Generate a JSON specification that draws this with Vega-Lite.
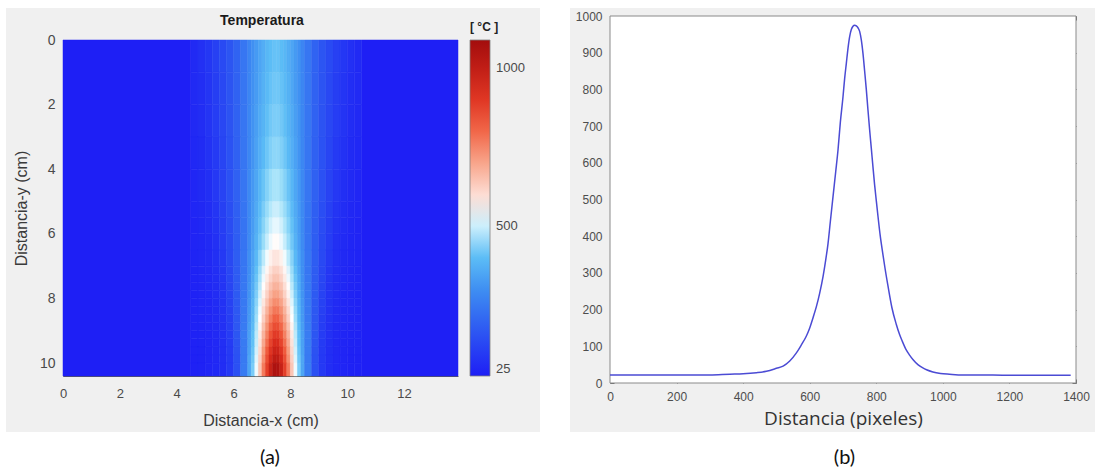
{
"$schema": "https://vega.github.io/schema/vega-lite/v6.json",
"background": "white",
"padding": {"left": 6, "top": 8, "right": 0, "bottom": 0},
"spacing": 30,
"config": {"view": {"stroke": null}, "font": "Liberation Sans", "axis": {"grid": false, "labelFont": "Liberation Sans", "titleFont": "Liberation Sans", "labelColor": "#4a4a4a", "titleColor": "#3a3a3a", "titleFontWeight": "normal"}},
"datasets": {
"heat": [
{"x0":0,"x1":4.5,"y0":0,"y1":10.4,"t":27},{"x0":10.5,"x1":13.9,"y0":0,"y1":10.4,"t":27},
{"x0":4.5,"x1":4.75,"y0":0,"y1":1,"t":56},{"x0":4.75,"x1":5,"y0":0,"y1":1,"t":69},{"x0":5,"x1":5.25,"y0":0,"y1":1,"t":87},{"x0":5.25,"x1":5.5,"y0":0,"y1":1,"t":109},{"x0":5.5,"x1":5.75,"y0":0,"y1":1,"t":134},{"x0":5.75,"x1":6,"y0":0,"y1":1,"t":163},{"x0":6,"x1":6.25,"y0":0,"y1":1,"t":197},{"x0":6.25,"x1":6.5,"y0":0,"y1":1,"t":242},{"x0":6.5,"x1":6.625,"y0":0,"y1":1,"t":277},{"x0":6.625,"x1":6.75,"y0":0,"y1":1,"t":302},{"x0":6.75,"x1":6.875,"y0":0,"y1":1,"t":325},{"x0":6.875,"x1":7,"y0":0,"y1":1,"t":347},{"x0":7,"x1":7.125,"y0":0,"y1":1,"t":368},{"x0":7.125,"x1":7.25,"y0":0,"y1":1,"t":386},{"x0":7.25,"x1":7.375,"y0":0,"y1":1,"t":400},{"x0":7.375,"x1":7.5,"y0":0,"y1":1,"t":409},{"x0":7.5,"x1":7.625,"y0":0,"y1":1,"t":409},{"x0":7.625,"x1":7.75,"y0":0,"y1":1,"t":400},{"x0":7.75,"x1":7.875,"y0":0,"y1":1,"t":386},{"x0":7.875,"x1":8,"y0":0,"y1":1,"t":368},{"x0":8,"x1":8.125,"y0":0,"y1":1,"t":347},{"x0":8.125,"x1":8.25,"y0":0,"y1":1,"t":325},{"x0":8.25,"x1":8.375,"y0":0,"y1":1,"t":302},{"x0":8.375,"x1":8.5,"y0":0,"y1":1,"t":277},{"x0":8.5,"x1":8.75,"y0":0,"y1":1,"t":242},{"x0":8.75,"x1":9,"y0":0,"y1":1,"t":197},{"x0":9,"x1":9.25,"y0":0,"y1":1,"t":163},{"x0":9.25,"x1":9.5,"y0":0,"y1":1,"t":134},{"x0":9.5,"x1":9.75,"y0":0,"y1":1,"t":109},{"x0":9.75,"x1":10,"y0":0,"y1":1,"t":87},{"x0":10,"x1":10.25,"y0":0,"y1":1,"t":69},{"x0":10.25,"x1":10.5,"y0":0,"y1":1,"t":56},
{"x0":4.5,"x1":4.75,"y0":1,"y1":2,"t":54},{"x0":4.75,"x1":5,"y0":1,"y1":2,"t":66},{"x0":5,"x1":5.25,"y0":1,"y1":2,"t":83},{"x0":5.25,"x1":5.5,"y0":1,"y1":2,"t":106},{"x0":5.5,"x1":5.75,"y0":1,"y1":2,"t":131},{"x0":5.75,"x1":6,"y0":1,"y1":2,"t":160},{"x0":6,"x1":6.25,"y0":1,"y1":2,"t":195},{"x0":6.25,"x1":6.5,"y0":1,"y1":2,"t":241},{"x0":6.5,"x1":6.625,"y0":1,"y1":2,"t":278},{"x0":6.625,"x1":6.75,"y0":1,"y1":2,"t":305},{"x0":6.75,"x1":6.875,"y0":1,"y1":2,"t":329},{"x0":6.875,"x1":7,"y0":1,"y1":2,"t":353},{"x0":7,"x1":7.125,"y0":1,"y1":2,"t":375},{"x0":7.125,"x1":7.25,"y0":1,"y1":2,"t":394},{"x0":7.25,"x1":7.375,"y0":1,"y1":2,"t":409},{"x0":7.375,"x1":7.5,"y0":1,"y1":2,"t":419},{"x0":7.5,"x1":7.625,"y0":1,"y1":2,"t":419},{"x0":7.625,"x1":7.75,"y0":1,"y1":2,"t":409},{"x0":7.75,"x1":7.875,"y0":1,"y1":2,"t":394},{"x0":7.875,"x1":8,"y0":1,"y1":2,"t":375},{"x0":8,"x1":8.125,"y0":1,"y1":2,"t":353},{"x0":8.125,"x1":8.25,"y0":1,"y1":2,"t":329},{"x0":8.25,"x1":8.375,"y0":1,"y1":2,"t":305},{"x0":8.375,"x1":8.5,"y0":1,"y1":2,"t":278},{"x0":8.5,"x1":8.75,"y0":1,"y1":2,"t":241},{"x0":8.75,"x1":9,"y0":1,"y1":2,"t":195},{"x0":9,"x1":9.25,"y0":1,"y1":2,"t":160},{"x0":9.25,"x1":9.5,"y0":1,"y1":2,"t":131},{"x0":9.5,"x1":9.75,"y0":1,"y1":2,"t":106},{"x0":9.75,"x1":10,"y0":1,"y1":2,"t":83},{"x0":10,"x1":10.25,"y0":1,"y1":2,"t":66},{"x0":10.25,"x1":10.5,"y0":1,"y1":2,"t":54},
{"x0":4.5,"x1":4.75,"y0":2,"y1":3,"t":52},{"x0":4.75,"x1":5,"y0":2,"y1":3,"t":62},{"x0":5,"x1":5.25,"y0":2,"y1":3,"t":80},{"x0":5.25,"x1":5.5,"y0":2,"y1":3,"t":102},{"x0":5.5,"x1":5.75,"y0":2,"y1":3,"t":128},{"x0":5.75,"x1":6,"y0":2,"y1":3,"t":158},{"x0":6,"x1":6.25,"y0":2,"y1":3,"t":194},{"x0":6.25,"x1":6.5,"y0":2,"y1":3,"t":241},{"x0":6.5,"x1":6.625,"y0":2,"y1":3,"t":281},{"x0":6.625,"x1":6.75,"y0":2,"y1":3,"t":308},{"x0":6.75,"x1":6.875,"y0":2,"y1":3,"t":334},{"x0":6.875,"x1":7,"y0":2,"y1":3,"t":360},{"x0":7,"x1":7.125,"y0":2,"y1":3,"t":383},{"x0":7.125,"x1":7.25,"y0":2,"y1":3,"t":404},{"x0":7.25,"x1":7.375,"y0":2,"y1":3,"t":421},{"x0":7.375,"x1":7.5,"y0":2,"y1":3,"t":430},{"x0":7.5,"x1":7.625,"y0":2,"y1":3,"t":430},{"x0":7.625,"x1":7.75,"y0":2,"y1":3,"t":421},{"x0":7.75,"x1":7.875,"y0":2,"y1":3,"t":404},{"x0":7.875,"x1":8,"y0":2,"y1":3,"t":383},{"x0":8,"x1":8.125,"y0":2,"y1":3,"t":360},{"x0":8.125,"x1":8.25,"y0":2,"y1":3,"t":334},{"x0":8.25,"x1":8.375,"y0":2,"y1":3,"t":308},{"x0":8.375,"x1":8.5,"y0":2,"y1":3,"t":281},{"x0":8.5,"x1":8.75,"y0":2,"y1":3,"t":241},{"x0":8.75,"x1":9,"y0":2,"y1":3,"t":194},{"x0":9,"x1":9.25,"y0":2,"y1":3,"t":158},{"x0":9.25,"x1":9.5,"y0":2,"y1":3,"t":128},{"x0":9.5,"x1":9.75,"y0":2,"y1":3,"t":102},{"x0":9.75,"x1":10,"y0":2,"y1":3,"t":80},{"x0":10,"x1":10.25,"y0":2,"y1":3,"t":62},{"x0":10.25,"x1":10.5,"y0":2,"y1":3,"t":52},
{"x0":4.5,"x1":4.75,"y0":3,"y1":4,"t":49},{"x0":4.75,"x1":5,"y0":3,"y1":4,"t":58},{"x0":5,"x1":5.25,"y0":3,"y1":4,"t":74},{"x0":5.25,"x1":5.5,"y0":3,"y1":4,"t":96},{"x0":5.5,"x1":5.75,"y0":3,"y1":4,"t":123},{"x0":5.75,"x1":6,"y0":3,"y1":4,"t":154},{"x0":6,"x1":6.25,"y0":3,"y1":4,"t":192},{"x0":6.25,"x1":6.5,"y0":3,"y1":4,"t":240},{"x0":6.5,"x1":6.625,"y0":3,"y1":4,"t":282},{"x0":6.625,"x1":6.75,"y0":3,"y1":4,"t":311},{"x0":6.75,"x1":6.875,"y0":3,"y1":4,"t":341},{"x0":6.875,"x1":7,"y0":3,"y1":4,"t":368},{"x0":7,"x1":7.125,"y0":3,"y1":4,"t":394},{"x0":7.125,"x1":7.25,"y0":3,"y1":4,"t":416},{"x0":7.25,"x1":7.375,"y0":3,"y1":4,"t":435},{"x0":7.375,"x1":7.5,"y0":3,"y1":4,"t":446},{"x0":7.5,"x1":7.625,"y0":3,"y1":4,"t":446},{"x0":7.625,"x1":7.75,"y0":3,"y1":4,"t":435},{"x0":7.75,"x1":7.875,"y0":3,"y1":4,"t":416},{"x0":7.875,"x1":8,"y0":3,"y1":4,"t":394},{"x0":8,"x1":8.125,"y0":3,"y1":4,"t":368},{"x0":8.125,"x1":8.25,"y0":3,"y1":4,"t":341},{"x0":8.25,"x1":8.375,"y0":3,"y1":4,"t":311},{"x0":8.375,"x1":8.5,"y0":3,"y1":4,"t":282},{"x0":8.5,"x1":8.75,"y0":3,"y1":4,"t":240},{"x0":8.75,"x1":9,"y0":3,"y1":4,"t":192},{"x0":9,"x1":9.25,"y0":3,"y1":4,"t":154},{"x0":9.25,"x1":9.5,"y0":3,"y1":4,"t":123},{"x0":9.5,"x1":9.75,"y0":3,"y1":4,"t":96},{"x0":9.75,"x1":10,"y0":3,"y1":4,"t":74},{"x0":10,"x1":10.25,"y0":3,"y1":4,"t":58},{"x0":10.25,"x1":10.5,"y0":3,"y1":4,"t":49},
{"x0":4.5,"x1":4.75,"y0":4,"y1":5,"t":46},{"x0":4.75,"x1":5,"y0":4,"y1":5,"t":55},{"x0":5,"x1":5.25,"y0":4,"y1":5,"t":68},{"x0":5.25,"x1":5.5,"y0":4,"y1":5,"t":90},{"x0":5.5,"x1":5.75,"y0":4,"y1":5,"t":118},{"x0":5.75,"x1":6,"y0":4,"y1":5,"t":152},{"x0":6,"x1":6.25,"y0":4,"y1":5,"t":192},{"x0":6.25,"x1":6.5,"y0":4,"y1":5,"t":242},{"x0":6.5,"x1":6.625,"y0":4,"y1":5,"t":287},{"x0":6.625,"x1":6.75,"y0":4,"y1":5,"t":319},{"x0":6.75,"x1":6.875,"y0":4,"y1":5,"t":353},{"x0":6.875,"x1":7,"y0":4,"y1":5,"t":384},{"x0":7,"x1":7.125,"y0":4,"y1":5,"t":413},{"x0":7.125,"x1":7.25,"y0":4,"y1":5,"t":438},{"x0":7.25,"x1":7.375,"y0":4,"y1":5,"t":460},{"x0":7.375,"x1":7.5,"y0":4,"y1":5,"t":473},{"x0":7.5,"x1":7.625,"y0":4,"y1":5,"t":473},{"x0":7.625,"x1":7.75,"y0":4,"y1":5,"t":460},{"x0":7.75,"x1":7.875,"y0":4,"y1":5,"t":438},{"x0":7.875,"x1":8,"y0":4,"y1":5,"t":413},{"x0":8,"x1":8.125,"y0":4,"y1":5,"t":384},{"x0":8.125,"x1":8.25,"y0":4,"y1":5,"t":353},{"x0":8.25,"x1":8.375,"y0":4,"y1":5,"t":319},{"x0":8.375,"x1":8.5,"y0":4,"y1":5,"t":287},{"x0":8.5,"x1":8.75,"y0":4,"y1":5,"t":242},{"x0":8.75,"x1":9,"y0":4,"y1":5,"t":192},{"x0":9,"x1":9.25,"y0":4,"y1":5,"t":152},{"x0":9.25,"x1":9.5,"y0":4,"y1":5,"t":118},{"x0":9.5,"x1":9.75,"y0":4,"y1":5,"t":90},{"x0":9.75,"x1":10,"y0":4,"y1":5,"t":68},{"x0":10,"x1":10.25,"y0":4,"y1":5,"t":55},{"x0":10.25,"x1":10.5,"y0":4,"y1":5,"t":46},
{"x0":4.5,"x1":4.75,"y0":5,"y1":5.5,"t":44},{"x0":4.75,"x1":5,"y0":5,"y1":5.5,"t":51},{"x0":5,"x1":5.25,"y0":5,"y1":5.5,"t":63},{"x0":5.25,"x1":5.5,"y0":5,"y1":5.5,"t":82},{"x0":5.5,"x1":5.75,"y0":5,"y1":5.5,"t":111},{"x0":5.75,"x1":6,"y0":5,"y1":5.5,"t":146},{"x0":6,"x1":6.25,"y0":5,"y1":5.5,"t":187},{"x0":6.25,"x1":6.5,"y0":5,"y1":5.5,"t":238},{"x0":6.5,"x1":6.625,"y0":5,"y1":5.5,"t":289},{"x0":6.625,"x1":6.75,"y0":5,"y1":5.5,"t":324},{"x0":6.75,"x1":6.875,"y0":5,"y1":5.5,"t":361},{"x0":6.875,"x1":7,"y0":5,"y1":5.5,"t":396},{"x0":7,"x1":7.125,"y0":5,"y1":5.5,"t":429},{"x0":7.125,"x1":7.25,"y0":5,"y1":5.5,"t":458},{"x0":7.25,"x1":7.375,"y0":5,"y1":5.5,"t":482},{"x0":7.375,"x1":7.5,"y0":5,"y1":5.5,"t":498},{"x0":7.5,"x1":7.625,"y0":5,"y1":5.5,"t":498},{"x0":7.625,"x1":7.75,"y0":5,"y1":5.5,"t":482},{"x0":7.75,"x1":7.875,"y0":5,"y1":5.5,"t":458},{"x0":7.875,"x1":8,"y0":5,"y1":5.5,"t":429},{"x0":8,"x1":8.125,"y0":5,"y1":5.5,"t":396},{"x0":8.125,"x1":8.25,"y0":5,"y1":5.5,"t":361},{"x0":8.25,"x1":8.375,"y0":5,"y1":5.5,"t":324},{"x0":8.375,"x1":8.5,"y0":5,"y1":5.5,"t":289},{"x0":8.5,"x1":8.75,"y0":5,"y1":5.5,"t":238},{"x0":8.75,"x1":9,"y0":5,"y1":5.5,"t":187},{"x0":9,"x1":9.25,"y0":5,"y1":5.5,"t":146},{"x0":9.25,"x1":9.5,"y0":5,"y1":5.5,"t":111},{"x0":9.5,"x1":9.75,"y0":5,"y1":5.5,"t":82},{"x0":9.75,"x1":10,"y0":5,"y1":5.5,"t":63},{"x0":10,"x1":10.25,"y0":5,"y1":5.5,"t":51},{"x0":10.25,"x1":10.5,"y0":5,"y1":5.5,"t":44},
{"x0":4.5,"x1":4.75,"y0":5.5,"y1":6,"t":41},{"x0":4.75,"x1":5,"y0":5.5,"y1":6,"t":48},{"x0":5,"x1":5.25,"y0":5.5,"y1":6,"t":59},{"x0":5.25,"x1":5.5,"y0":5.5,"y1":6,"t":77},{"x0":5.5,"x1":5.75,"y0":5.5,"y1":6,"t":105},{"x0":5.75,"x1":6,"y0":5.5,"y1":6,"t":141},{"x0":6,"x1":6.25,"y0":5.5,"y1":6,"t":184},{"x0":6.25,"x1":6.5,"y0":5.5,"y1":6,"t":236},{"x0":6.5,"x1":6.625,"y0":5.5,"y1":6,"t":289},{"x0":6.625,"x1":6.75,"y0":5.5,"y1":6,"t":328},{"x0":6.75,"x1":6.875,"y0":5.5,"y1":6,"t":368},{"x0":6.875,"x1":7,"y0":5.5,"y1":6,"t":407},{"x0":7,"x1":7.125,"y0":5.5,"y1":6,"t":442},{"x0":7.125,"x1":7.25,"y0":5.5,"y1":6,"t":475},{"x0":7.25,"x1":7.375,"y0":5.5,"y1":6,"t":503},{"x0":7.375,"x1":7.5,"y0":5.5,"y1":6,"t":520},{"x0":7.5,"x1":7.625,"y0":5.5,"y1":6,"t":520},{"x0":7.625,"x1":7.75,"y0":5.5,"y1":6,"t":503},{"x0":7.75,"x1":7.875,"y0":5.5,"y1":6,"t":475},{"x0":7.875,"x1":8,"y0":5.5,"y1":6,"t":442},{"x0":8,"x1":8.125,"y0":5.5,"y1":6,"t":407},{"x0":8.125,"x1":8.25,"y0":5.5,"y1":6,"t":368},{"x0":8.25,"x1":8.375,"y0":5.5,"y1":6,"t":328},{"x0":8.375,"x1":8.5,"y0":5.5,"y1":6,"t":289},{"x0":8.5,"x1":8.75,"y0":5.5,"y1":6,"t":236},{"x0":8.75,"x1":9,"y0":5.5,"y1":6,"t":184},{"x0":9,"x1":9.25,"y0":5.5,"y1":6,"t":141},{"x0":9.25,"x1":9.5,"y0":5.5,"y1":6,"t":105},{"x0":9.5,"x1":9.75,"y0":5.5,"y1":6,"t":77},{"x0":9.75,"x1":10,"y0":5.5,"y1":6,"t":59},{"x0":10,"x1":10.25,"y0":5.5,"y1":6,"t":48},{"x0":10.25,"x1":10.5,"y0":5.5,"y1":6,"t":41},
{"x0":4.5,"x1":4.75,"y0":6,"y1":6.5,"t":40},{"x0":4.75,"x1":5,"y0":6,"y1":6.5,"t":46},{"x0":5,"x1":5.25,"y0":6,"y1":6.5,"t":56},{"x0":5.25,"x1":5.5,"y0":6,"y1":6.5,"t":71},{"x0":5.5,"x1":5.75,"y0":6,"y1":6.5,"t":99},{"x0":5.75,"x1":6,"y0":6,"y1":6.5,"t":136},{"x0":6,"x1":6.25,"y0":6,"y1":6.5,"t":182},{"x0":6.25,"x1":6.5,"y0":6,"y1":6.5,"t":236},{"x0":6.5,"x1":6.625,"y0":6,"y1":6.5,"t":290},{"x0":6.625,"x1":6.75,"y0":6,"y1":6.5,"t":333},{"x0":6.75,"x1":6.875,"y0":6,"y1":6.5,"t":375},{"x0":6.875,"x1":7,"y0":6,"y1":6.5,"t":419},{"x0":7,"x1":7.125,"y0":6,"y1":6.5,"t":459},{"x0":7.125,"x1":7.25,"y0":6,"y1":6.5,"t":495},{"x0":7.25,"x1":7.375,"y0":6,"y1":6.5,"t":526},{"x0":7.375,"x1":7.5,"y0":6,"y1":6.5,"t":545},{"x0":7.5,"x1":7.625,"y0":6,"y1":6.5,"t":545},{"x0":7.625,"x1":7.75,"y0":6,"y1":6.5,"t":526},{"x0":7.75,"x1":7.875,"y0":6,"y1":6.5,"t":495},{"x0":7.875,"x1":8,"y0":6,"y1":6.5,"t":459},{"x0":8,"x1":8.125,"y0":6,"y1":6.5,"t":419},{"x0":8.125,"x1":8.25,"y0":6,"y1":6.5,"t":375},{"x0":8.25,"x1":8.375,"y0":6,"y1":6.5,"t":333},{"x0":8.375,"x1":8.5,"y0":6,"y1":6.5,"t":290},{"x0":8.5,"x1":8.75,"y0":6,"y1":6.5,"t":236},{"x0":8.75,"x1":9,"y0":6,"y1":6.5,"t":182},{"x0":9,"x1":9.25,"y0":6,"y1":6.5,"t":136},{"x0":9.25,"x1":9.5,"y0":6,"y1":6.5,"t":99},{"x0":9.5,"x1":9.75,"y0":6,"y1":6.5,"t":71},{"x0":9.75,"x1":10,"y0":6,"y1":6.5,"t":56},{"x0":10,"x1":10.25,"y0":6,"y1":6.5,"t":46},{"x0":10.25,"x1":10.5,"y0":6,"y1":6.5,"t":40},
{"x0":4.5,"x1":4.75,"y0":6.5,"y1":7,"t":39},{"x0":4.75,"x1":5,"y0":6.5,"y1":7,"t":44},{"x0":5,"x1":5.25,"y0":6.5,"y1":7,"t":53},{"x0":5.25,"x1":5.5,"y0":6.5,"y1":7,"t":67},{"x0":5.5,"x1":5.75,"y0":6.5,"y1":7,"t":93},{"x0":5.75,"x1":6,"y0":6.5,"y1":7,"t":132},{"x0":6,"x1":6.25,"y0":6.5,"y1":7,"t":182},{"x0":6.25,"x1":6.5,"y0":6.5,"y1":7,"t":240},{"x0":6.5,"x1":6.625,"y0":6.5,"y1":7,"t":299},{"x0":6.625,"x1":6.75,"y0":6.5,"y1":7,"t":344},{"x0":6.75,"x1":6.875,"y0":6.5,"y1":7,"t":391},{"x0":6.875,"x1":7,"y0":6.5,"y1":7,"t":441},{"x0":7,"x1":7.125,"y0":6.5,"y1":7,"t":488},{"x0":7.125,"x1":7.25,"y0":6.5,"y1":7,"t":529},{"x0":7.25,"x1":7.375,"y0":6.5,"y1":7,"t":565},{"x0":7.375,"x1":7.5,"y0":6.5,"y1":7,"t":587},{"x0":7.5,"x1":7.625,"y0":6.5,"y1":7,"t":587},{"x0":7.625,"x1":7.75,"y0":6.5,"y1":7,"t":565},{"x0":7.75,"x1":7.875,"y0":6.5,"y1":7,"t":529},{"x0":7.875,"x1":8,"y0":6.5,"y1":7,"t":488},{"x0":8,"x1":8.125,"y0":6.5,"y1":7,"t":441},{"x0":8.125,"x1":8.25,"y0":6.5,"y1":7,"t":391},{"x0":8.25,"x1":8.375,"y0":6.5,"y1":7,"t":344},{"x0":8.375,"x1":8.5,"y0":6.5,"y1":7,"t":299},{"x0":8.5,"x1":8.75,"y0":6.5,"y1":7,"t":240},{"x0":8.75,"x1":9,"y0":6.5,"y1":7,"t":182},{"x0":9,"x1":9.25,"y0":6.5,"y1":7,"t":132},{"x0":9.25,"x1":9.5,"y0":6.5,"y1":7,"t":93},{"x0":9.5,"x1":9.75,"y0":6.5,"y1":7,"t":67},{"x0":9.75,"x1":10,"y0":6.5,"y1":7,"t":53},{"x0":10,"x1":10.25,"y0":6.5,"y1":7,"t":44},{"x0":10.25,"x1":10.5,"y0":6.5,"y1":7,"t":39},
{"x0":4.5,"x1":4.75,"y0":7,"y1":7.25,"t":38},{"x0":4.75,"x1":5,"y0":7,"y1":7.25,"t":42},{"x0":5,"x1":5.25,"y0":7,"y1":7.25,"t":51},{"x0":5.25,"x1":5.5,"y0":7,"y1":7.25,"t":65},{"x0":5.5,"x1":5.75,"y0":7,"y1":7.25,"t":87},{"x0":5.75,"x1":6,"y0":7,"y1":7.25,"t":128},{"x0":6,"x1":6.25,"y0":7,"y1":7.25,"t":179},{"x0":6.25,"x1":6.5,"y0":7,"y1":7.25,"t":241},{"x0":6.5,"x1":6.625,"y0":7,"y1":7.25,"t":301},{"x0":6.625,"x1":6.75,"y0":7,"y1":7.25,"t":351},{"x0":6.75,"x1":6.875,"y0":7,"y1":7.25,"t":403},{"x0":6.875,"x1":7,"y0":7,"y1":7.25,"t":458},{"x0":7,"x1":7.125,"y0":7,"y1":7.25,"t":511},{"x0":7.125,"x1":7.25,"y0":7,"y1":7.25,"t":556},{"x0":7.25,"x1":7.375,"y0":7,"y1":7.25,"t":596},{"x0":7.375,"x1":7.5,"y0":7,"y1":7.25,"t":622},{"x0":7.5,"x1":7.625,"y0":7,"y1":7.25,"t":622},{"x0":7.625,"x1":7.75,"y0":7,"y1":7.25,"t":596},{"x0":7.75,"x1":7.875,"y0":7,"y1":7.25,"t":556},{"x0":7.875,"x1":8,"y0":7,"y1":7.25,"t":511},{"x0":8,"x1":8.125,"y0":7,"y1":7.25,"t":458},{"x0":8.125,"x1":8.25,"y0":7,"y1":7.25,"t":403},{"x0":8.25,"x1":8.375,"y0":7,"y1":7.25,"t":351},{"x0":8.375,"x1":8.5,"y0":7,"y1":7.25,"t":301},{"x0":8.5,"x1":8.75,"y0":7,"y1":7.25,"t":241},{"x0":8.75,"x1":9,"y0":7,"y1":7.25,"t":179},{"x0":9,"x1":9.25,"y0":7,"y1":7.25,"t":128},{"x0":9.25,"x1":9.5,"y0":7,"y1":7.25,"t":87},{"x0":9.5,"x1":9.75,"y0":7,"y1":7.25,"t":65},{"x0":9.75,"x1":10,"y0":7,"y1":7.25,"t":51},{"x0":10,"x1":10.25,"y0":7,"y1":7.25,"t":42},{"x0":10.25,"x1":10.5,"y0":7,"y1":7.25,"t":38},
{"x0":4.5,"x1":4.75,"y0":7.25,"y1":7.5,"t":38},{"x0":4.75,"x1":5,"y0":7.25,"y1":7.5,"t":42},{"x0":5,"x1":5.25,"y0":7.25,"y1":7.5,"t":49},{"x0":5.25,"x1":5.5,"y0":7.25,"y1":7.5,"t":62},{"x0":5.5,"x1":5.75,"y0":7.25,"y1":7.5,"t":84},{"x0":5.75,"x1":6,"y0":7.25,"y1":7.5,"t":124},{"x0":6,"x1":6.25,"y0":7.25,"y1":7.5,"t":178},{"x0":6.25,"x1":6.5,"y0":7.25,"y1":7.5,"t":243},{"x0":6.5,"x1":6.625,"y0":7.25,"y1":7.5,"t":303},{"x0":6.625,"x1":6.75,"y0":7.25,"y1":7.5,"t":356},{"x0":6.75,"x1":6.875,"y0":7.25,"y1":7.5,"t":412},{"x0":6.875,"x1":7,"y0":7.25,"y1":7.5,"t":471},{"x0":7,"x1":7.125,"y0":7.25,"y1":7.5,"t":526},{"x0":7.125,"x1":7.25,"y0":7.25,"y1":7.5,"t":576},{"x0":7.25,"x1":7.375,"y0":7.25,"y1":7.5,"t":619},{"x0":7.375,"x1":7.5,"y0":7.25,"y1":7.5,"t":647},{"x0":7.5,"x1":7.625,"y0":7.25,"y1":7.5,"t":647},{"x0":7.625,"x1":7.75,"y0":7.25,"y1":7.5,"t":619},{"x0":7.75,"x1":7.875,"y0":7.25,"y1":7.5,"t":576},{"x0":7.875,"x1":8,"y0":7.25,"y1":7.5,"t":526},{"x0":8,"x1":8.125,"y0":7.25,"y1":7.5,"t":471},{"x0":8.125,"x1":8.25,"y0":7.25,"y1":7.5,"t":412},{"x0":8.25,"x1":8.375,"y0":7.25,"y1":7.5,"t":356},{"x0":8.375,"x1":8.5,"y0":7.25,"y1":7.5,"t":303},{"x0":8.5,"x1":8.75,"y0":7.25,"y1":7.5,"t":243},{"x0":8.75,"x1":9,"y0":7.25,"y1":7.5,"t":178},{"x0":9,"x1":9.25,"y0":7.25,"y1":7.5,"t":124},{"x0":9.25,"x1":9.5,"y0":7.25,"y1":7.5,"t":84},{"x0":9.5,"x1":9.75,"y0":7.25,"y1":7.5,"t":62},{"x0":9.75,"x1":10,"y0":7.25,"y1":7.5,"t":49},{"x0":10,"x1":10.25,"y0":7.25,"y1":7.5,"t":42},{"x0":10.25,"x1":10.5,"y0":7.25,"y1":7.5,"t":38},
{"x0":4.5,"x1":4.75,"y0":7.5,"y1":7.75,"t":37},{"x0":4.75,"x1":5,"y0":7.5,"y1":7.75,"t":41},{"x0":5,"x1":5.25,"y0":7.5,"y1":7.75,"t":49},{"x0":5.25,"x1":5.5,"y0":7.5,"y1":7.75,"t":61},{"x0":5.5,"x1":5.75,"y0":7.5,"y1":7.75,"t":81},{"x0":5.75,"x1":6,"y0":7.5,"y1":7.75,"t":122},{"x0":6,"x1":6.25,"y0":7.5,"y1":7.75,"t":177},{"x0":6.25,"x1":6.5,"y0":7.5,"y1":7.75,"t":245},{"x0":6.5,"x1":6.625,"y0":7.5,"y1":7.75,"t":308},{"x0":6.625,"x1":6.75,"y0":7.5,"y1":7.75,"t":363},{"x0":6.75,"x1":6.875,"y0":7.5,"y1":7.75,"t":423},{"x0":6.875,"x1":7,"y0":7.5,"y1":7.75,"t":485},{"x0":7,"x1":7.125,"y0":7.5,"y1":7.75,"t":546},{"x0":7.125,"x1":7.25,"y0":7.5,"y1":7.75,"t":599},{"x0":7.25,"x1":7.375,"y0":7.5,"y1":7.75,"t":647},{"x0":7.375,"x1":7.5,"y0":7.5,"y1":7.75,"t":677},{"x0":7.5,"x1":7.625,"y0":7.5,"y1":7.75,"t":677},{"x0":7.625,"x1":7.75,"y0":7.5,"y1":7.75,"t":647},{"x0":7.75,"x1":7.875,"y0":7.5,"y1":7.75,"t":599},{"x0":7.875,"x1":8,"y0":7.5,"y1":7.75,"t":546},{"x0":8,"x1":8.125,"y0":7.5,"y1":7.75,"t":485},{"x0":8.125,"x1":8.25,"y0":7.5,"y1":7.75,"t":423},{"x0":8.25,"x1":8.375,"y0":7.5,"y1":7.75,"t":363},{"x0":8.375,"x1":8.5,"y0":7.5,"y1":7.75,"t":308},{"x0":8.5,"x1":8.75,"y0":7.5,"y1":7.75,"t":245},{"x0":8.75,"x1":9,"y0":7.5,"y1":7.75,"t":177},{"x0":9,"x1":9.25,"y0":7.5,"y1":7.75,"t":122},{"x0":9.25,"x1":9.5,"y0":7.5,"y1":7.75,"t":81},{"x0":9.5,"x1":9.75,"y0":7.5,"y1":7.75,"t":61},{"x0":9.75,"x1":10,"y0":7.5,"y1":7.75,"t":49},{"x0":10,"x1":10.25,"y0":7.5,"y1":7.75,"t":41},{"x0":10.25,"x1":10.5,"y0":7.5,"y1":7.75,"t":37},
{"x0":4.5,"x1":4.75,"y0":7.75,"y1":8,"t":36},{"x0":4.75,"x1":5,"y0":7.75,"y1":8,"t":41},{"x0":5,"x1":5.25,"y0":7.75,"y1":8,"t":47},{"x0":5.25,"x1":5.5,"y0":7.75,"y1":8,"t":59},{"x0":5.5,"x1":5.75,"y0":7.75,"y1":8,"t":79},{"x0":5.75,"x1":6,"y0":7.75,"y1":8,"t":118},{"x0":6,"x1":6.25,"y0":7.75,"y1":8,"t":175},{"x0":6.25,"x1":6.5,"y0":7.75,"y1":8,"t":246},{"x0":6.5,"x1":6.625,"y0":7.75,"y1":8,"t":311},{"x0":6.625,"x1":6.75,"y0":7.75,"y1":8,"t":370},{"x0":6.75,"x1":6.875,"y0":7.75,"y1":8,"t":432},{"x0":6.875,"x1":7,"y0":7.75,"y1":8,"t":499},{"x0":7,"x1":7.125,"y0":7.75,"y1":8,"t":563},{"x0":7.125,"x1":7.25,"y0":7.75,"y1":8,"t":622},{"x0":7.25,"x1":7.375,"y0":7.75,"y1":8,"t":673},{"x0":7.375,"x1":7.5,"y0":7.75,"y1":8,"t":706},{"x0":7.5,"x1":7.625,"y0":7.75,"y1":8,"t":706},{"x0":7.625,"x1":7.75,"y0":7.75,"y1":8,"t":673},{"x0":7.75,"x1":7.875,"y0":7.75,"y1":8,"t":622},{"x0":7.875,"x1":8,"y0":7.75,"y1":8,"t":563},{"x0":8,"x1":8.125,"y0":7.75,"y1":8,"t":499},{"x0":8.125,"x1":8.25,"y0":7.75,"y1":8,"t":432},{"x0":8.25,"x1":8.375,"y0":7.75,"y1":8,"t":370},{"x0":8.375,"x1":8.5,"y0":7.75,"y1":8,"t":311},{"x0":8.5,"x1":8.75,"y0":7.75,"y1":8,"t":246},{"x0":8.75,"x1":9,"y0":7.75,"y1":8,"t":175},{"x0":9,"x1":9.25,"y0":7.75,"y1":8,"t":118},{"x0":9.25,"x1":9.5,"y0":7.75,"y1":8,"t":79},{"x0":9.5,"x1":9.75,"y0":7.75,"y1":8,"t":59},{"x0":9.75,"x1":10,"y0":7.75,"y1":8,"t":47},{"x0":10,"x1":10.25,"y0":7.75,"y1":8,"t":41},{"x0":10.25,"x1":10.5,"y0":7.75,"y1":8,"t":36},
{"x0":4.5,"x1":4.75,"y0":8,"y1":8.25,"t":36},{"x0":4.75,"x1":5,"y0":8,"y1":8.25,"t":40},{"x0":5,"x1":5.25,"y0":8,"y1":8.25,"t":46},{"x0":5.25,"x1":5.5,"y0":8,"y1":8.25,"t":57},{"x0":5.5,"x1":5.75,"y0":8,"y1":8.25,"t":76},{"x0":5.75,"x1":6,"y0":8,"y1":8.25,"t":114},{"x0":6,"x1":6.25,"y0":8,"y1":8.25,"t":173},{"x0":6.25,"x1":6.5,"y0":8,"y1":8.25,"t":248},{"x0":6.5,"x1":6.625,"y0":8,"y1":8.25,"t":317},{"x0":6.625,"x1":6.75,"y0":8,"y1":8.25,"t":378},{"x0":6.75,"x1":6.875,"y0":8,"y1":8.25,"t":443},{"x0":6.875,"x1":7,"y0":8,"y1":8.25,"t":514},{"x0":7,"x1":7.125,"y0":8,"y1":8.25,"t":585},{"x0":7.125,"x1":7.25,"y0":8,"y1":8.25,"t":649},{"x0":7.25,"x1":7.375,"y0":8,"y1":8.25,"t":704},{"x0":7.375,"x1":7.5,"y0":8,"y1":8.25,"t":741},{"x0":7.5,"x1":7.625,"y0":8,"y1":8.25,"t":741},{"x0":7.625,"x1":7.75,"y0":8,"y1":8.25,"t":704},{"x0":7.75,"x1":7.875,"y0":8,"y1":8.25,"t":649},{"x0":7.875,"x1":8,"y0":8,"y1":8.25,"t":585},{"x0":8,"x1":8.125,"y0":8,"y1":8.25,"t":514},{"x0":8.125,"x1":8.25,"y0":8,"y1":8.25,"t":443},{"x0":8.25,"x1":8.375,"y0":8,"y1":8.25,"t":378},{"x0":8.375,"x1":8.5,"y0":8,"y1":8.25,"t":317},{"x0":8.5,"x1":8.75,"y0":8,"y1":8.25,"t":248},{"x0":8.75,"x1":9,"y0":8,"y1":8.25,"t":173},{"x0":9,"x1":9.25,"y0":8,"y1":8.25,"t":114},{"x0":9.25,"x1":9.5,"y0":8,"y1":8.25,"t":76},{"x0":9.5,"x1":9.75,"y0":8,"y1":8.25,"t":57},{"x0":9.75,"x1":10,"y0":8,"y1":8.25,"t":46},{"x0":10,"x1":10.25,"y0":8,"y1":8.25,"t":40},{"x0":10.25,"x1":10.5,"y0":8,"y1":8.25,"t":36},
{"x0":4.5,"x1":4.75,"y0":8.25,"y1":8.5,"t":36},{"x0":4.75,"x1":5,"y0":8.25,"y1":8.5,"t":39},{"x0":5,"x1":5.25,"y0":8.25,"y1":8.5,"t":45},{"x0":5.25,"x1":5.5,"y0":8.25,"y1":8.5,"t":56},{"x0":5.5,"x1":5.75,"y0":8.25,"y1":8.5,"t":75},{"x0":5.75,"x1":6,"y0":8.25,"y1":8.5,"t":110},{"x0":6,"x1":6.25,"y0":8.25,"y1":8.5,"t":170},{"x0":6.25,"x1":6.5,"y0":8.25,"y1":8.5,"t":248},{"x0":6.5,"x1":6.625,"y0":8.25,"y1":8.5,"t":321},{"x0":6.625,"x1":6.75,"y0":8.25,"y1":8.5,"t":383},{"x0":6.75,"x1":6.875,"y0":8.25,"y1":8.5,"t":453},{"x0":6.875,"x1":7,"y0":8.25,"y1":8.5,"t":529},{"x0":7,"x1":7.125,"y0":8.25,"y1":8.5,"t":606},{"x0":7.125,"x1":7.25,"y0":8.25,"y1":8.5,"t":675},{"x0":7.25,"x1":7.375,"y0":8.25,"y1":8.5,"t":735},{"x0":7.375,"x1":7.5,"y0":8.25,"y1":8.5,"t":775},{"x0":7.5,"x1":7.625,"y0":8.25,"y1":8.5,"t":775},{"x0":7.625,"x1":7.75,"y0":8.25,"y1":8.5,"t":735},{"x0":7.75,"x1":7.875,"y0":8.25,"y1":8.5,"t":675},{"x0":7.875,"x1":8,"y0":8.25,"y1":8.5,"t":606},{"x0":8,"x1":8.125,"y0":8.25,"y1":8.5,"t":529},{"x0":8.125,"x1":8.25,"y0":8.25,"y1":8.5,"t":453},{"x0":8.25,"x1":8.375,"y0":8.25,"y1":8.5,"t":383},{"x0":8.375,"x1":8.5,"y0":8.25,"y1":8.5,"t":321},{"x0":8.5,"x1":8.75,"y0":8.25,"y1":8.5,"t":248},{"x0":8.75,"x1":9,"y0":8.25,"y1":8.5,"t":170},{"x0":9,"x1":9.25,"y0":8.25,"y1":8.5,"t":110},{"x0":9.25,"x1":9.5,"y0":8.25,"y1":8.5,"t":75},{"x0":9.5,"x1":9.75,"y0":8.25,"y1":8.5,"t":56},{"x0":9.75,"x1":10,"y0":8.25,"y1":8.5,"t":45},{"x0":10,"x1":10.25,"y0":8.25,"y1":8.5,"t":39},{"x0":10.25,"x1":10.5,"y0":8.25,"y1":8.5,"t":36},
{"x0":4.5,"x1":4.75,"y0":8.5,"y1":8.75,"t":34},{"x0":4.75,"x1":5,"y0":8.5,"y1":8.75,"t":38},{"x0":5,"x1":5.25,"y0":8.5,"y1":8.75,"t":44},{"x0":5.25,"x1":5.5,"y0":8.5,"y1":8.75,"t":54},{"x0":5.5,"x1":5.75,"y0":8.5,"y1":8.75,"t":72},{"x0":5.75,"x1":6,"y0":8.5,"y1":8.75,"t":105},{"x0":6,"x1":6.25,"y0":8.5,"y1":8.75,"t":167},{"x0":6.25,"x1":6.5,"y0":8.5,"y1":8.75,"t":249},{"x0":6.5,"x1":6.625,"y0":8.5,"y1":8.75,"t":324},{"x0":6.625,"x1":6.75,"y0":8.5,"y1":8.75,"t":385},{"x0":6.75,"x1":6.875,"y0":8.5,"y1":8.75,"t":462},{"x0":6.875,"x1":7,"y0":8.5,"y1":8.75,"t":542},{"x0":7,"x1":7.125,"y0":8.5,"y1":8.75,"t":625},{"x0":7.125,"x1":7.25,"y0":8.5,"y1":8.75,"t":700},{"x0":7.25,"x1":7.375,"y0":8.5,"y1":8.75,"t":765},{"x0":7.375,"x1":7.5,"y0":8.5,"y1":8.75,"t":810},{"x0":7.5,"x1":7.625,"y0":8.5,"y1":8.75,"t":810},{"x0":7.625,"x1":7.75,"y0":8.5,"y1":8.75,"t":765},{"x0":7.75,"x1":7.875,"y0":8.5,"y1":8.75,"t":700},{"x0":7.875,"x1":8,"y0":8.5,"y1":8.75,"t":625},{"x0":8,"x1":8.125,"y0":8.5,"y1":8.75,"t":542},{"x0":8.125,"x1":8.25,"y0":8.5,"y1":8.75,"t":462},{"x0":8.25,"x1":8.375,"y0":8.5,"y1":8.75,"t":385},{"x0":8.375,"x1":8.5,"y0":8.5,"y1":8.75,"t":324},{"x0":8.5,"x1":8.75,"y0":8.5,"y1":8.75,"t":249},{"x0":8.75,"x1":9,"y0":8.5,"y1":8.75,"t":167},{"x0":9,"x1":9.25,"y0":8.5,"y1":8.75,"t":105},{"x0":9.25,"x1":9.5,"y0":8.5,"y1":8.75,"t":72},{"x0":9.5,"x1":9.75,"y0":8.5,"y1":8.75,"t":54},{"x0":9.75,"x1":10,"y0":8.5,"y1":8.75,"t":44},{"x0":10,"x1":10.25,"y0":8.5,"y1":8.75,"t":38},{"x0":10.25,"x1":10.5,"y0":8.5,"y1":8.75,"t":34},
{"x0":4.5,"x1":4.75,"y0":8.75,"y1":9,"t":34},{"x0":4.75,"x1":5,"y0":8.75,"y1":9,"t":38},{"x0":5,"x1":5.25,"y0":8.75,"y1":9,"t":44},{"x0":5.25,"x1":5.5,"y0":8.75,"y1":9,"t":53},{"x0":5.5,"x1":5.75,"y0":8.75,"y1":9,"t":71},{"x0":5.75,"x1":6,"y0":8.75,"y1":9,"t":102},{"x0":6,"x1":6.25,"y0":8.75,"y1":9,"t":167},{"x0":6.25,"x1":6.5,"y0":8.75,"y1":9,"t":252},{"x0":6.5,"x1":6.625,"y0":8.75,"y1":9,"t":332},{"x0":6.625,"x1":6.75,"y0":8.75,"y1":9,"t":394},{"x0":6.75,"x1":6.875,"y0":8.75,"y1":9,"t":476},{"x0":6.875,"x1":7,"y0":8.75,"y1":9,"t":561},{"x0":7,"x1":7.125,"y0":8.75,"y1":9,"t":651},{"x0":7.125,"x1":7.25,"y0":8.75,"y1":9,"t":731},{"x0":7.25,"x1":7.375,"y0":8.75,"y1":9,"t":801},{"x0":7.375,"x1":7.5,"y0":8.75,"y1":9,"t":850},{"x0":7.5,"x1":7.625,"y0":8.75,"y1":9,"t":850},{"x0":7.625,"x1":7.75,"y0":8.75,"y1":9,"t":801},{"x0":7.75,"x1":7.875,"y0":8.75,"y1":9,"t":731},{"x0":7.875,"x1":8,"y0":8.75,"y1":9,"t":651},{"x0":8,"x1":8.125,"y0":8.75,"y1":9,"t":561},{"x0":8.125,"x1":8.25,"y0":8.75,"y1":9,"t":476},{"x0":8.25,"x1":8.375,"y0":8.75,"y1":9,"t":394},{"x0":8.375,"x1":8.5,"y0":8.75,"y1":9,"t":332},{"x0":8.5,"x1":8.75,"y0":8.75,"y1":9,"t":252},{"x0":8.75,"x1":9,"y0":8.75,"y1":9,"t":167},{"x0":9,"x1":9.25,"y0":8.75,"y1":9,"t":102},{"x0":9.25,"x1":9.5,"y0":8.75,"y1":9,"t":71},{"x0":9.5,"x1":9.75,"y0":8.75,"y1":9,"t":53},{"x0":9.75,"x1":10,"y0":8.75,"y1":9,"t":44},{"x0":10,"x1":10.25,"y0":8.75,"y1":9,"t":38},{"x0":10.25,"x1":10.5,"y0":8.75,"y1":9,"t":34},
{"x0":4.5,"x1":4.75,"y0":9,"y1":9.25,"t":35},{"x0":4.75,"x1":5,"y0":9,"y1":9.25,"t":38},{"x0":5,"x1":5.25,"y0":9,"y1":9.25,"t":43},{"x0":5.25,"x1":5.5,"y0":9,"y1":9.25,"t":52},{"x0":5.5,"x1":5.75,"y0":9,"y1":9.25,"t":69},{"x0":5.75,"x1":6,"y0":9,"y1":9.25,"t":101},{"x0":6,"x1":6.25,"y0":9,"y1":9.25,"t":165},{"x0":6.25,"x1":6.5,"y0":9,"y1":9.25,"t":255},{"x0":6.5,"x1":6.625,"y0":9,"y1":9.25,"t":338},{"x0":6.625,"x1":6.75,"y0":9,"y1":9.25,"t":403},{"x0":6.75,"x1":6.875,"y0":9,"y1":9.25,"t":487},{"x0":6.875,"x1":7,"y0":9,"y1":9.25,"t":579},{"x0":7,"x1":7.125,"y0":9,"y1":9.25,"t":675},{"x0":7.125,"x1":7.25,"y0":9,"y1":9.25,"t":761},{"x0":7.25,"x1":7.375,"y0":9,"y1":9.25,"t":836},{"x0":7.375,"x1":7.5,"y0":9,"y1":9.25,"t":890},{"x0":7.5,"x1":7.625,"y0":9,"y1":9.25,"t":890},{"x0":7.625,"x1":7.75,"y0":9,"y1":9.25,"t":836},{"x0":7.75,"x1":7.875,"y0":9,"y1":9.25,"t":761},{"x0":7.875,"x1":8,"y0":9,"y1":9.25,"t":675},{"x0":8,"x1":8.125,"y0":9,"y1":9.25,"t":579},{"x0":8.125,"x1":8.25,"y0":9,"y1":9.25,"t":487},{"x0":8.25,"x1":8.375,"y0":9,"y1":9.25,"t":403},{"x0":8.375,"x1":8.5,"y0":9,"y1":9.25,"t":338},{"x0":8.5,"x1":8.75,"y0":9,"y1":9.25,"t":255},{"x0":8.75,"x1":9,"y0":9,"y1":9.25,"t":165},{"x0":9,"x1":9.25,"y0":9,"y1":9.25,"t":101},{"x0":9.25,"x1":9.5,"y0":9,"y1":9.25,"t":69},{"x0":9.5,"x1":9.75,"y0":9,"y1":9.25,"t":52},{"x0":9.75,"x1":10,"y0":9,"y1":9.25,"t":43},{"x0":10,"x1":10.25,"y0":9,"y1":9.25,"t":38},{"x0":10.25,"x1":10.5,"y0":9,"y1":9.25,"t":35},
{"x0":4.5,"x1":4.75,"y0":9.25,"y1":9.5,"t":34},{"x0":4.75,"x1":5,"y0":9.25,"y1":9.5,"t":38},{"x0":5,"x1":5.25,"y0":9.25,"y1":9.5,"t":42},{"x0":5.25,"x1":5.5,"y0":9.25,"y1":9.5,"t":50},{"x0":5.5,"x1":5.75,"y0":9.25,"y1":9.5,"t":67},{"x0":5.75,"x1":6,"y0":9.25,"y1":9.5,"t":97},{"x0":6,"x1":6.25,"y0":9.25,"y1":9.5,"t":160},{"x0":6.25,"x1":6.5,"y0":9.25,"y1":9.5,"t":252},{"x0":6.5,"x1":6.625,"y0":9.25,"y1":9.5,"t":339},{"x0":6.625,"x1":6.75,"y0":9.25,"y1":9.5,"t":405},{"x0":6.75,"x1":6.875,"y0":9.25,"y1":9.5,"t":495},{"x0":6.875,"x1":7,"y0":9.25,"y1":9.5,"t":592},{"x0":7,"x1":7.125,"y0":9.25,"y1":9.5,"t":696},{"x0":7.125,"x1":7.25,"y0":9.25,"y1":9.5,"t":789},{"x0":7.25,"x1":7.375,"y0":9.25,"y1":9.5,"t":870},{"x0":7.375,"x1":7.5,"y0":9.25,"y1":9.5,"t":930},{"x0":7.5,"x1":7.625,"y0":9.25,"y1":9.5,"t":930},{"x0":7.625,"x1":7.75,"y0":9.25,"y1":9.5,"t":870},{"x0":7.75,"x1":7.875,"y0":9.25,"y1":9.5,"t":789},{"x0":7.875,"x1":8,"y0":9.25,"y1":9.5,"t":696},{"x0":8,"x1":8.125,"y0":9.25,"y1":9.5,"t":592},{"x0":8.125,"x1":8.25,"y0":9.25,"y1":9.5,"t":495},{"x0":8.25,"x1":8.375,"y0":9.25,"y1":9.5,"t":405},{"x0":8.375,"x1":8.5,"y0":9.25,"y1":9.5,"t":339},{"x0":8.5,"x1":8.75,"y0":9.25,"y1":9.5,"t":252},{"x0":8.75,"x1":9,"y0":9.25,"y1":9.5,"t":160},{"x0":9,"x1":9.25,"y0":9.25,"y1":9.5,"t":97},{"x0":9.25,"x1":9.5,"y0":9.25,"y1":9.5,"t":67},{"x0":9.5,"x1":9.75,"y0":9.25,"y1":9.5,"t":50},{"x0":9.75,"x1":10,"y0":9.25,"y1":9.5,"t":42},{"x0":10,"x1":10.25,"y0":9.25,"y1":9.5,"t":38},{"x0":10.25,"x1":10.5,"y0":9.25,"y1":9.5,"t":34},
{"x0":4.5,"x1":4.75,"y0":9.5,"y1":9.75,"t":34},{"x0":4.75,"x1":5,"y0":9.5,"y1":9.75,"t":36},{"x0":5,"x1":5.25,"y0":9.5,"y1":9.75,"t":42},{"x0":5.25,"x1":5.5,"y0":9.5,"y1":9.75,"t":51},{"x0":5.5,"x1":5.75,"y0":9.5,"y1":9.75,"t":66},{"x0":5.75,"x1":6,"y0":9.5,"y1":9.75,"t":94},{"x0":6,"x1":6.25,"y0":9.5,"y1":9.75,"t":156},{"x0":6.25,"x1":6.5,"y0":9.5,"y1":9.75,"t":252},{"x0":6.5,"x1":6.625,"y0":9.5,"y1":9.75,"t":342},{"x0":6.625,"x1":6.75,"y0":9.5,"y1":9.75,"t":412},{"x0":6.75,"x1":6.875,"y0":9.5,"y1":9.75,"t":505},{"x0":6.875,"x1":7,"y0":9.5,"y1":9.75,"t":608},{"x0":7,"x1":7.125,"y0":9.5,"y1":9.75,"t":718},{"x0":7.125,"x1":7.25,"y0":9.5,"y1":9.75,"t":818},{"x0":7.25,"x1":7.375,"y0":9.5,"y1":9.75,"t":905},{"x0":7.375,"x1":7.5,"y0":9.5,"y1":9.75,"t":969},{"x0":7.5,"x1":7.625,"y0":9.5,"y1":9.75,"t":969},{"x0":7.625,"x1":7.75,"y0":9.5,"y1":9.75,"t":905},{"x0":7.75,"x1":7.875,"y0":9.5,"y1":9.75,"t":818},{"x0":7.875,"x1":8,"y0":9.5,"y1":9.75,"t":718},{"x0":8,"x1":8.125,"y0":9.5,"y1":9.75,"t":608},{"x0":8.125,"x1":8.25,"y0":9.5,"y1":9.75,"t":505},{"x0":8.25,"x1":8.375,"y0":9.5,"y1":9.75,"t":412},{"x0":8.375,"x1":8.5,"y0":9.5,"y1":9.75,"t":342},{"x0":8.5,"x1":8.75,"y0":9.5,"y1":9.75,"t":252},{"x0":8.75,"x1":9,"y0":9.5,"y1":9.75,"t":156},{"x0":9,"x1":9.25,"y0":9.5,"y1":9.75,"t":94},{"x0":9.25,"x1":9.5,"y0":9.5,"y1":9.75,"t":66},{"x0":9.5,"x1":9.75,"y0":9.5,"y1":9.75,"t":51},{"x0":9.75,"x1":10,"y0":9.5,"y1":9.75,"t":42},{"x0":10,"x1":10.25,"y0":9.5,"y1":9.75,"t":36},{"x0":10.25,"x1":10.5,"y0":9.5,"y1":9.75,"t":34},
{"x0":4.5,"x1":4.75,"y0":9.75,"y1":10,"t":33},{"x0":4.75,"x1":5,"y0":9.75,"y1":10,"t":36},{"x0":5,"x1":5.25,"y0":9.75,"y1":10,"t":42},{"x0":5.25,"x1":5.5,"y0":9.75,"y1":10,"t":50},{"x0":5.5,"x1":5.75,"y0":9.75,"y1":10,"t":65},{"x0":5.75,"x1":6,"y0":9.75,"y1":10,"t":92},{"x0":6,"x1":6.25,"y0":9.75,"y1":10,"t":153},{"x0":6.25,"x1":6.5,"y0":9.75,"y1":10,"t":251},{"x0":6.5,"x1":6.625,"y0":9.75,"y1":10,"t":350},{"x0":6.625,"x1":6.75,"y0":9.75,"y1":10,"t":419},{"x0":6.75,"x1":6.875,"y0":9.75,"y1":10,"t":515},{"x0":6.875,"x1":7,"y0":9.75,"y1":10,"t":623},{"x0":7,"x1":7.125,"y0":9.75,"y1":10,"t":738},{"x0":7.125,"x1":7.25,"y0":9.75,"y1":10,"t":847},{"x0":7.25,"x1":7.375,"y0":9.75,"y1":10,"t":940},{"x0":7.375,"x1":7.5,"y0":9.75,"y1":10,"t":1008},{"x0":7.5,"x1":7.625,"y0":9.75,"y1":10,"t":1008},{"x0":7.625,"x1":7.75,"y0":9.75,"y1":10,"t":940},{"x0":7.75,"x1":7.875,"y0":9.75,"y1":10,"t":847},{"x0":7.875,"x1":8,"y0":9.75,"y1":10,"t":738},{"x0":8,"x1":8.125,"y0":9.75,"y1":10,"t":623},{"x0":8.125,"x1":8.25,"y0":9.75,"y1":10,"t":515},{"x0":8.25,"x1":8.375,"y0":9.75,"y1":10,"t":419},{"x0":8.375,"x1":8.5,"y0":9.75,"y1":10,"t":350},{"x0":8.5,"x1":8.75,"y0":9.75,"y1":10,"t":251},{"x0":8.75,"x1":9,"y0":9.75,"y1":10,"t":153},{"x0":9,"x1":9.25,"y0":9.75,"y1":10,"t":92},{"x0":9.25,"x1":9.5,"y0":9.75,"y1":10,"t":65},{"x0":9.5,"x1":9.75,"y0":9.75,"y1":10,"t":50},{"x0":9.75,"x1":10,"y0":9.75,"y1":10,"t":42},{"x0":10,"x1":10.25,"y0":9.75,"y1":10,"t":36},{"x0":10.25,"x1":10.5,"y0":9.75,"y1":10,"t":33},
{"x0":4.5,"x1":4.75,"y0":10,"y1":10.4,"t":33},{"x0":4.75,"x1":5,"y0":10,"y1":10.4,"t":36},{"x0":5,"x1":5.25,"y0":10,"y1":10.4,"t":42},{"x0":5.25,"x1":5.5,"y0":10,"y1":10.4,"t":49},{"x0":5.5,"x1":5.75,"y0":10,"y1":10.4,"t":63},{"x0":5.75,"x1":6,"y0":10,"y1":10.4,"t":92},{"x0":6,"x1":6.25,"y0":10,"y1":10.4,"t":149},{"x0":6.25,"x1":6.5,"y0":10,"y1":10.4,"t":252},{"x0":6.5,"x1":6.625,"y0":10,"y1":10.4,"t":348},{"x0":6.625,"x1":6.75,"y0":10,"y1":10.4,"t":427},{"x0":6.75,"x1":6.875,"y0":10,"y1":10.4,"t":527},{"x0":6.875,"x1":7,"y0":10,"y1":10.4,"t":642},{"x0":7,"x1":7.125,"y0":10,"y1":10.4,"t":768},{"x0":7.125,"x1":7.25,"y0":10,"y1":10.4,"t":882},{"x0":7.25,"x1":7.375,"y0":10,"y1":10.4,"t":984},{"x0":7.375,"x1":7.5,"y0":10,"y1":10.4,"t":1058},{"x0":7.5,"x1":7.625,"y0":10,"y1":10.4,"t":1058},{"x0":7.625,"x1":7.75,"y0":10,"y1":10.4,"t":984},{"x0":7.75,"x1":7.875,"y0":10,"y1":10.4,"t":882},{"x0":7.875,"x1":8,"y0":10,"y1":10.4,"t":768},{"x0":8,"x1":8.125,"y0":10,"y1":10.4,"t":642},{"x0":8.125,"x1":8.25,"y0":10,"y1":10.4,"t":527},{"x0":8.25,"x1":8.375,"y0":10,"y1":10.4,"t":427},{"x0":8.375,"x1":8.5,"y0":10,"y1":10.4,"t":348},{"x0":8.5,"x1":8.75,"y0":10,"y1":10.4,"t":252},{"x0":8.75,"x1":9,"y0":10,"y1":10.4,"t":149},{"x0":9,"x1":9.25,"y0":10,"y1":10.4,"t":92},{"x0":9.25,"x1":9.5,"y0":10,"y1":10.4,"t":63},{"x0":9.5,"x1":9.75,"y0":10,"y1":10.4,"t":49},{"x0":9.75,"x1":10,"y0":10,"y1":10.4,"t":42},{"x0":10,"x1":10.25,"y0":10,"y1":10.4,"t":36},{"x0":10.25,"x1":10.5,"y0":10,"y1":10.4,"t":33}
],
"profile": [{"px":0,"temp":22},{"px":100,"temp":22},{"px":200,"temp":22},{"px":300,"temp":22},{"px":360,"temp":24},{"px":400,"temp":25},{"px":440,"temp":28},{"px":470,"temp":32},{"px":500,"temp":40},{"px":520,"temp":46},{"px":540,"temp":60},{"px":560,"temp":82},{"px":575,"temp":104},{"px":590,"temp":128},{"px":600,"temp":150},{"px":610,"temp":178},{"px":620,"temp":208},{"px":630,"temp":245},{"px":640,"temp":290},{"px":648,"temp":335},{"px":655,"temp":380},{"px":662,"temp":440},{"px":670,"temp":508},{"px":678,"temp":575},{"px":685,"temp":635},{"px":692,"temp":710},{"px":700,"temp":780},{"px":705,"temp":830},{"px":710,"temp":871},{"px":715,"temp":912},{"px":720,"temp":944},{"px":725,"temp":963},{"px":730,"temp":972},{"px":735,"temp":975},{"px":740,"temp":973},{"px":745,"temp":968},{"px":750,"temp":958},{"px":755,"temp":935},{"px":760,"temp":898},{"px":765,"temp":850},{"px":770,"temp":800},{"px":775,"temp":744},{"px":780,"temp":690},{"px":785,"temp":640},{"px":790,"temp":589},{"px":795,"temp":540},{"px":800,"temp":497},{"px":805,"temp":455},{"px":812,"temp":400},{"px":820,"temp":350},{"px":826,"temp":314},{"px":835,"temp":265},{"px":847,"temp":205},{"px":860,"temp":160},{"px":870,"temp":132},{"px":878,"temp":114},{"px":890,"temp":90},{"px":900,"temp":76},{"px":910,"temp":64},{"px":925,"temp":50},{"px":940,"temp":41},{"px":951,"temp":36},{"px":970,"temp":30},{"px":993,"temp":26},{"px":1020,"temp":24},{"px":1060,"temp":22},{"px":1100,"temp":22},{"px":1200,"temp":21},{"px":1300,"temp":21},{"px":1384,"temp":21}]
},
"hconcat": [
{
"title": {"text": "(a)", "orient": "bottom", "anchor": "middle", "offset": 16, "dx": -3, "fontSize": 20, "font": "Lato", "fontWeight": "normal", "color": "#111111"},
"vconcat": [
{
"width": 534, "height": 424,
"view": {"fill": "#f0f0f0", "stroke": null},
"title": {"text": "Temperatura", "anchor": "middle", "offset": -20, "dx": -11, "fontSize": 14, "fontWeight": "bold", "font": "Liberation Sans", "color": "#1a1a1a"},
"data": {"name": "heat"},
"mark": {"type": "rect", "strokeWidth": 0.5},
"encoding": {
"x": {"field": "x0", "type": "quantitative", "scale": {"domain": [0, 13.9], "range": [57, 452], "nice": false, "zero": false},
"axis": {"orient": "bottom", "offset": -56, "values": [0, 2, 4, 6, 8, 10, 12], "ticks": false, "labelFlush": false, "labelPadding": 11, "labelFontSize": 13, "labelAngle": 0, "domainColor": "#5a5a5a", "title": "Distancia-x (cm)", "titleFontSize": 16, "titlePadding": 12}},
"x2": {"field": "x1"},
"y": {"field": "y0", "type": "quantitative", "scale": {"domain": [0, 10.4], "range": [32, 368], "nice": false, "zero": false},
"axis": {"orient": "left", "offset": -57, "values": [0, 2, 4, 6, 8, 10], "ticks": false, "labelFlush": false, "labelPadding": 8, "labelFontSize": 14, "domainColor": "#5a5a5a", "title": "Distancia-y (cm)", "titleFontSize": 16, "titlePadding": 10}},
"y2": {"field": "y1"},
"fill": {"field": "t", "type": "quantitative",
"scale": {"type": "linear", "domain": [25, 180, 300, 400, 470, 540, 620, 720, 820, 920, 1090], "range": ["#1e1ef5", "#2e5cf2", "#3f8ff2", "#5cbdf6", "#a6e3fa", "#ffffff", "#fcd2c6", "#f79a7c", "#f05a3c", "#dc2e1e", "#a30d0d"], "interpolate": "rgb", "clamp": true, "nice": false, "zero": false},
"legend": {"type": "gradient", "orient": "none", "legendX": 464, "legendY": 14, "direction": "vertical", "gradientLength": 336, "gradientThickness": 20, "title": "[ °C ]", "titleFontSize": 12, "titleFontWeight": "bold", "titleFont": "Liberation Sans", "titleColor": "#222222", "titlePadding": 6, "values": [25, 500, 1000], "format": "d", "labelFontSize": 13, "labelColor": "#4a4a4a", "labelFont": "Liberation Sans", "labelOffset": 6, "gradientStrokeColor": "#808080", "gradientStrokeWidth": 0.8}},
"stroke": {"field": "t", "type": "quantitative",
"scale": {"type": "linear", "domain": [24.99, 180, 300, 400, 470, 540, 620, 720, 820, 920, 1090.01], "range": ["#1e1ef5", "#2e5cf2", "#3f8ff2", "#5cbdf6", "#a6e3fa", "#ffffff", "#fcd2c6", "#f79a7c", "#f05a3c", "#dc2e1e", "#a30d0d"], "interpolate": "rgb", "clamp": true, "nice": false, "zero": false},
"legend": null}
}
}
]
},
{
"title": {"text": "(b)", "orient": "bottom", "anchor": "middle", "offset": 16, "dx": 12, "fontSize": 20, "font": "Lato", "fontWeight": "normal", "color": "#111111"},
"vconcat": [
{
"width": 525, "height": 424,
"view": {"fill": "#f0f0f0", "stroke": null},
"layer": [
{
"data": {"values": [{}]},
"mark": {"type": "rect", "fill": "#ffffff", "stroke": "#8a8a8a", "strokeWidth": 1},
"encoding": {
"x": {"datum": 0, "type": "quantitative", "scale": {"domain": [0, 1400], "range": [40, 506], "nice": false, "zero": false},
"axis": {"orient": "top", "offset": -8, "labels": false, "domain": false, "ticks": true, "tickSize": -4, "tickColor": "#666666", "values": [0, 200, 400, 600, 800, 1000, 1200, 1400], "title": null}},
"x2": {"datum": 1400},
"y": {"datum": 0, "type": "quantitative", "scale": {"domain": [0, 1000], "range": [375, 8], "nice": false, "zero": false},
"axis": {"orient": "right", "offset": -19, "labels": false, "domain": false, "ticks": true, "tickSize": -4, "tickColor": "#666666", "values": [0, 100, 200, 300, 400, 500, 600, 700, 800, 900, 1000], "title": null}},
"y2": {"datum": 1000}
}
},
{
"data": {"name": "profile"},
"mark": {"type": "line", "color": "#4b4bd4", "strokeWidth": 1.5, "interpolate": "monotone"},
"encoding": {
"x": {"field": "px", "type": "quantitative", "scale": {"domain": [0, 1400], "range": [40, 506], "nice": false, "zero": false},
"axis": {"orient": "bottom", "offset": -49, "values": [0, 200, 400, 600, 800, 1000, 1200, 1400], "format": "d", "labelFlush": false, "domain": false, "ticks": true, "tickSize": -4, "tickColor": "#666666", "labelPadding": 12, "labelFontSize": 12, "labelAngle": 0, "labelColor": "#4d4d4d", "title": "Distancia (pixeles)", "titleFont": "Open Sans", "titleFontSize": 19, "titleColor": "#333333", "titlePadding": 7}},
"y": {"field": "temp", "type": "quantitative", "scale": {"domain": [0, 1000], "range": [375, 8], "nice": false, "zero": false},
"axis": {"orient": "left", "offset": -40, "values": [0, 100, 200, 300, 400, 500, 600, 700, 800, 900, 1000], "format": "d", "labelFlush": false, "domain": false, "ticks": true, "tickSize": -4, "tickColor": "#666666", "labelPadding": 12, "labelFontSize": 12, "labelColor": "#4d4d4d", "title": null}}
}
}
],
"resolve": {"axis": {"x": "independent", "y": "independent"}}
}
]
}
]
}
